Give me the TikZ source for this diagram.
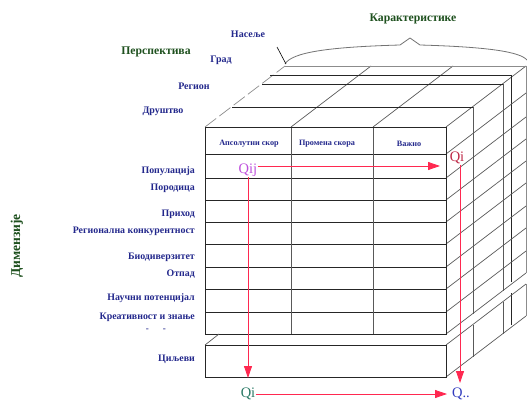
\documentclass[tikz,border=0pt]{standalone}
\usepackage{fontspec}
\setmainfont{Liberation Serif}
\usetikzlibrary{arrows.meta}
\definecolor{navyL}{RGB}{35,40,140}
\definecolor{greenT}{RGB}{30,80,30}
\definecolor{redA}{RGB}{255,40,80}
\definecolor{qij}{RGB}{190,80,220}
\definecolor{qitop}{RGB}{190,40,70}
\definecolor{qibot}{RGB}{40,120,100}
\definecolor{qdd}{RGB}{50,60,190}
\begin{document}
\begin{tikzpicture}[x=1pt,y=-1pt,
  lab/.style={font=\fontsize{9.9}{12}\selectfont\bfseries, text=navyL, anchor=east, inner sep=0pt},
  toplab/.style={font=\fontsize{10}{12}\selectfont\bfseries, text=navyL, inner sep=0pt},
  hdr/.style={font=\fontsize{8.2}{9}\selectfont\bfseries, text=navyL, inner sep=0pt},
  ttl/.style={font=\fontsize{11.7}{13}\selectfont\bfseries, text=greenT, inner sep=0pt},
  qlab/.style={font=\fontsize{14.5}{15}\selectfont, inner sep=0.5pt},
  grid/.style={draw=black!65, line width=0.7pt},
  edge/.style={draw=black!85, line width=0.9pt},
  faint/.style={draw=black!45, line width=0.7pt},
  redline/.style={draw=redA, line width=0.8pt},
  rarrow/.style={redline, -{Triangle[length=12pt,width=8pt]}}
]
\useasboundingbox (0,0) rectangle (527,401);

% ---------- top face ----------
\draw[faint, dash pattern=on 14pt off 4pt] (205,127) -- (285,66);
\draw[grid] (446,127) -- (526,66);
\draw[grid] (291,127) -- (371,66);
\draw[grid] (373,127) -- (453,66);
\draw[edge] (232,107) -- (473,107);
\draw[edge] (262,84) -- (503,84);
\draw[edge] (270,75) -- (511,75);
\draw[faint] (285,66) -- (526,66);

% ---------- right face verticals ----------
\draw[grid] (473,107) -- (473,314);
\draw[grid] (503,84) -- (503,291);
\draw[edge] (511,75) -- (511,282);
\draw[faint] (526,66) -- (526,273);
% lower block verticals
\draw[grid] (473,325) -- (473,357);
\draw[grid] (503,302) -- (503,334);
\draw[edge] (511,293) -- (511,325);
\draw[faint] (526,284) -- (526,316);

% ---------- right face diagonals ----------
\foreach \yy in {154,178,200,222,244,267,289,312,334,345,377}
  \draw[grid] (446,\yy) -- ++(80,-61);

% ---------- front face main block ----------
\foreach \yy in {154,178,200,222,244,267,289,312}
  \draw[edge] (205,\yy) -- (446,\yy);
\draw[grid] (291,127) -- (291,334);
\draw[grid] (373,127) -- (373,334);
\draw[edge] (205,127) rectangle (446,334);

% ---------- lower block ----------
\draw[grid] (205,345) -- (219,334);
\draw[edge] (205,345) rectangle (446,377);

% ---------- brace ----------
\draw[black!55, line width=0.8pt] (285,64) .. controls (292,52) and (330,47) .. (400,45)
  -- (410,38) -- (420,45) .. controls (490,47) and (520,52) .. (527,60);
\coordinate (leadA) at (277,47);
\coordinate (leadB) at (286,64);
\draw[black, line width=0.6pt] (leadA) -- (leadB);

% ---------- titles ----------
\node[ttl] (kar) at (413,19) {Карактеристике};
\node[ttl] (persp) at (156,52) {Перспектива};
\node[ttl, font=\fontsize{13.5}{15}\selectfont\bfseries, rotate=90] (dim) at (17,246) {Димензије};

\node[toplab] (nas) at (248,34) {Насеље};
\node[toplab] (grad) at (221,60) {Град};
\node[toplab] (reg) at (194,86) {Регион};
\node[toplab] (dru) at (163,111) {Друштво};

% ---------- header ----------
\node[hdr] (h1) at (249,144) {Апсолутни скор};
\node[hdr] (h2) at (327,144) {Промена скора};
\node[hdr] (h3) at (409,144) {Важно};

% ---------- row labels ----------
\node[lab] (r1) at (195,171) {Популација};
\node[lab] (r2) at (195,188) {Породица};
\node[lab] (r3) at (195,214) {Приход};
\node[lab] (r4) at (195,231) {Регионална конкурентност};
\node[lab] (r5) at (195,257) {Биодиверзитет};
\node[lab] (r6) at (195,274) {Отпад};
\node[lab] (r7) at (195,298) {Научни потенцијал};
\node[lab] (r8) at (195,317) {Креативност и знање};
\node[lab, font=\fontsize{9}{10}\selectfont\bfseries] (r9) at (166,330) {-\hspace{14pt}-};
\node[lab] (r10) at (195,359) {Циљеви};

% ---------- Q labels and arrows ----------
\node[qlab, text=qij] (Qij) at (248,170) {Qij};
\node[qlab, text=qitop] (QiT) at (457,158) {Qi};
\node[qlab, text=qibot] (QiB) at (248,394) {Qi};
\node[qlab, text=qdd] (Qdd) at (461,394) {Q..};

\coordinate (aH1) at (440,166);
\coordinate (aV1) at (248,378);
\coordinate (aH2) at (447,394);
\coordinate (aV2) at (460,383);

\draw[rarrow] (Qij.east |- aH1) -- (aH1);
\draw[rarrow] (Qij.south) -- (aV1);
\draw[rarrow] (QiB.east) -- (aH2);
\draw[rarrow] (aV2 |- QiT.south) -- (aV2);
\end{tikzpicture}
\end{document}
